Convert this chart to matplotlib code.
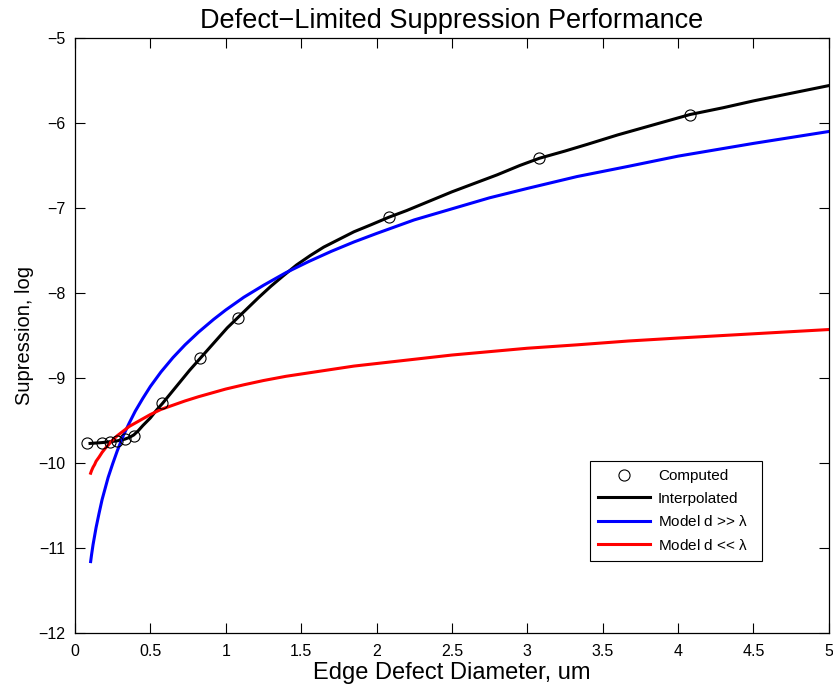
import numpy as np
import matplotlib
matplotlib.use("Agg")
import matplotlib.pyplot as plt

plt.rcParams['font.family'] = ['Liberation Sans', 'DejaVu Sans']

# computed points
comp_x = [0.083, 0.18, 0.23, 0.28, 0.33, 0.39, 0.58, 0.83, 1.08, 2.08, 3.08, 4.08]
comp_y = [-9.77, -9.76, -9.75, -9.74, -9.72, -9.68, -9.30, -8.77, -8.29, -7.11, -6.415, -5.90]

# interpolated curve
interp_x = [0.10, 0.18, 0.23, 0.28, 0.33, 0.36, 0.39, 0.42, 0.45, 0.5, 0.54, 0.58,
            0.64, 0.7, 0.76, 0.83, 0.89, 0.95, 1.01, 1.08, 1.15, 1.22, 1.3, 1.38,
            1.47, 1.56, 1.65, 1.75, 1.85, 1.96, 2.08, 2.2, 2.35, 2.5, 2.65, 2.8,
            2.95, 3.08, 3.25, 3.4, 3.6, 3.8, 4.08, 4.3, 4.5, 4.75, 5.0]
interp_y = [-9.77, -9.76, -9.75, -9.74, -9.72, -9.70, -9.67, -9.62, -9.56, -9.47,
            -9.38, -9.30, -9.17, -9.04, -8.91, -8.77, -8.65, -8.53, -8.41, -8.29,
            -8.17, -8.05, -7.92, -7.80, -7.67, -7.56, -7.46, -7.37, -7.28, -7.20,
            -7.11, -7.03, -6.92, -6.81, -6.71, -6.61, -6.50, -6.415, -6.33, -6.25,
            -6.14, -6.04, -5.90, -5.82, -5.74, -5.65, -5.56]

# model curves
model_x = [0.104, 0.11, 0.12, 0.13, 0.14, 0.16, 0.18, 0.2, 0.22, 0.25, 0.28, 0.32,
           0.36, 0.4, 0.45, 0.5, 0.57, 0.65, 0.73, 0.82, 0.92, 1.0, 1.12, 1.25,
           1.4, 1.55, 1.7, 1.85, 2.0, 2.25, 2.5, 2.75, 3.0, 3.33, 3.67, 4.0, 4.5, 5.0]
big_y = [-11.16, -11.08, -10.96, -10.86, -10.76, -10.59, -10.43, -10.30, -10.17,
         -10.01, -9.86, -9.68, -9.53, -9.39, -9.24, -9.10, -8.93, -8.76, -8.61,
         -8.46, -8.31, -8.20, -8.05, -7.91, -7.76, -7.63, -7.51, -7.40, -7.30,
         -7.14, -7.01, -6.88, -6.77, -6.63, -6.51, -6.39, -6.24, -6.10]
small_y = [-10.12, -10.09, -10.05, -10.02, -9.98, -9.93, -9.875, -9.83, -9.79,
           -9.73, -9.68, -9.625, -9.57, -9.53, -9.48, -9.43, -9.37, -9.32, -9.27,
           -9.22, -9.17, -9.13, -9.08, -9.03, -8.98, -8.94, -8.90, -8.86, -8.83,
           -8.78, -8.73, -8.69, -8.65, -8.61, -8.565, -8.53, -8.48, -8.43]

fig = plt.figure(figsize=(8.33, 6.86), dpi=100)
ax = fig.add_axes([0.090, 0.0773, 0.905, 0.8673])

ax.plot(comp_x, comp_y, 'o', mfc='none', mec='black', ms=8, mew=0.8, label='Computed', zorder=5)
ax.plot(interp_x, interp_y, color='black', lw=2.2, label='Interpolated')
ax.plot(model_x, big_y, color='blue', lw=2.2, label=r'Model d >> $\mathregular{\lambda}$')
ax.plot(model_x, small_y, color='red', lw=2.2, label=r'Model d << $\mathregular{\lambda}$')

ax.set_xlim(0, 5)
ax.set_ylim(-12, -5)
ax.set_xticks(np.arange(0, 5.01, 0.5))
ax.set_xticklabels(['0', '0.5', '1', '1.5', '2', '2.5', '3', '3.5', '4', '4.5', '5'])
ax.set_yticks(np.arange(-12, -4.99, 1))
ax.set_yticklabels(['\u221212', '\u221211', '\u221210', '\u22129', '\u22128', '\u22127', '\u22126', '\u22125'])
ax.tick_params(direction='in', top=True, right=True, length=7, width=0.8, labelsize=11.5)
ax.tick_params(axis='x', pad=8)
ax.tick_params(axis='y', pad=7)
for s in ax.spines.values():
    s.set_linewidth(0.9)

ax.set_title('Defect\u2212Limited Suppression Performance', fontsize=19.5, pad=7)
ax.set_xlabel('Edge Defect Diameter, um', fontsize=17, labelpad=2)
ax.set_ylabel('Supression, log', fontsize=14.5, labelpad=3)

leg = ax.legend(loc='lower left', bbox_to_anchor=(0.683, 0.121, 0.228, 0.171),
                mode='expand', borderaxespad=0, fontsize=11, fancybox=False,
                edgecolor='black', handlelength=3.4, borderpad=0.55, labelspacing=0.55,
                handletextpad=0.5, framealpha=1)
leg.get_frame().set_linewidth(0.8)

fig.savefig('out.png', dpi=100)
